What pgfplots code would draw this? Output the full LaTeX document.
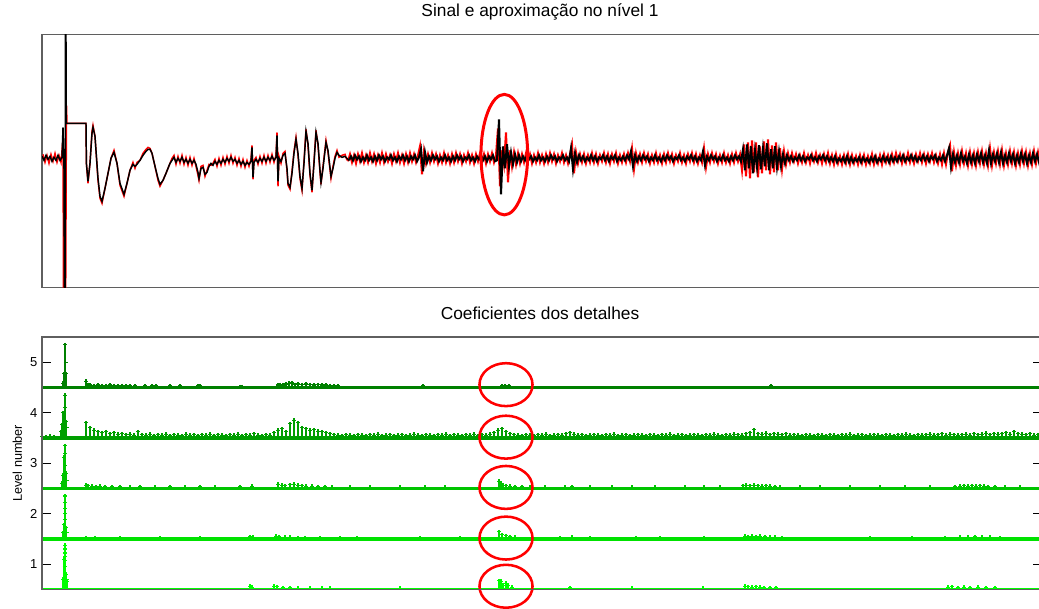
\documentclass[border=0pt]{standalone}
\usepackage{pgfplots}
\usepackage{pgfplotstable}
\pgfplotsset{compat=1.18}
\usepackage{fontspec}
\setmainfont{Liberation Sans}
\definecolor{lvfive}{RGB}{0,128,0}
\definecolor{lvfour}{RGB}{0,158,0}
\definecolor{lvthree}{RGB}{0,196,0}
\definecolor{lvtwo}{RGB}{0,226,0}
\definecolor{lvone}{RGB}{0,255,0}
\definecolor{frame}{RGB}{95,95,95}

% level tables: x position and stem height above the level's baseline
\pgfplotstableread[row sep=\\]{x h\\
63 0.08\\ 64 0.27\\ 64.6 0.28\\ 65 0.85\\ 65.5 0.5\\ 66 0.27\\
86 0.12\\ 88 0.06\\ 90 0.05\\ 94 0.04\\ 98 0.05\\ 102 0.04\\ 106 0.04\\ 110 0.05\\ 114 0.04\\ 118 0.03\\
122 0.04\\ 126 0.03\\ 130 0.03\\ 135 0.03\\ 145 0.03\\ 152 0.03\\ 156 0.03\\ 170 0.03\\ 180 0.03\\ 198 0.03\\
200 0.03\\ 240 0.02\\ 242 0.02\\ 278 0.05\\ 280 0.06\\ 283 0.05\\ 286 0.07\\ 289 0.08\\ 292 0.09\\ 295 0.06\\
298 0.07\\ 302 0.06\\ 306 0.07\\ 310 0.06\\ 314 0.05\\ 318 0.06\\ 322 0.05\\ 326 0.05\\ 330 0.04\\ 334 0.03\\
338 0.03\\ 423 0.03\\ 502 0.03\\ 505 0.03\\ 509 0.03\\ 771 0.03\\
}\levfive

\pgfplotstableread[row sep=\\]{x h\\
61 0.12\\ 62 0.26\\ 63 0.5\\ 63.5 0.45\\ 64 0.26\\ 65 0.85\\ 65 0.6\\ 66 0.32\\ 66.5 0.2\\
42 0.03\\ 46 0.02\\ 50 0.03\\ 54 0.02\\
86 0.3\\ 90 0.2\\ 94 0.15\\ 98 0.12\\ 102 0.1\\ 106 0.12\\ 110 0.08\\ 114 0.1\\ 118 0.07\\
122 0.08\\ 126 0.06\\ 130 0.07\\ 134 0.05\\ 138 0.12\\ 142 0.06\\ 146 0.05\\ 150 0.07\\ 154 0.04\\ 158 0.06\\
162 0.05\\ 166 0.07\\ 170 0.04\\ 174 0.06\\ 178 0.05\\ 182 0.04\\ 186 0.07\\ 190 0.05\\ 194 0.06\\ 198 0.04\\
202 0.06\\ 206 0.05\\ 210 0.07\\ 214 0.04\\ 218 0.06\\ 222 0.05\\ 226 0.04\\ 230 0.06\\ 234 0.05\\ 238 0.07\\
242 0.04\\ 246 0.06\\ 250 0.05\\ 254 0.08\\ 258 0.05\\ 262 0.04\\ 266 0.06\\ 270 0.05\\ 274 0.1\\ 278 0.15\\
282 0.18\\ 286 0.12\\ 290 0.28\\ 294 0.35\\ 298 0.3\\ 302 0.2\\ 306 0.18\\ 310 0.15\\ 314 0.16\\ 318 0.13\\
322 0.12\\ 326 0.1\\ 330 0.08\\ 334 0.06\\ 338 0.05\\ 342 0.04\\ 346 0.06\\ 350 0.05\\ 354 0.04\\ 358 0.06\\
362 0.05\\ 366 0.04\\ 370 0.06\\ 374 0.05\\ 378 0.07\\ 382 0.04\\ 386 0.05\\ 390 0.06\\ 394 0.04\\ 398 0.05\\
402 0.06\\ 406 0.04\\ 410 0.05\\ 414 0.07\\ 418 0.05\\ 422 0.04\\ 426 0.06\\ 430 0.05\\ 434 0.04\\ 438 0.06\\
442 0.05\\ 446 0.07\\ 450 0.04\\ 454 0.06\\ 458 0.05\\ 462 0.04\\ 466 0.06\\ 470 0.05\\ 474 0.07\\ 478 0.04\\
482 0.06\\ 486 0.05\\ 490 0.07\\ 494 0.1\\ 498 0.15\\ 502 0.18\\ 506 0.12\\ 510 0.08\\ 514 0.06\\ 518 0.05\\
522 0.04\\ 526 0.06\\ 530 0.05\\ 534 0.04\\ 538 0.06\\ 542 0.05\\ 546 0.07\\ 550 0.04\\ 554 0.05\\ 558 0.06\\
562 0.05\\ 566 0.08\\ 570 0.1\\ 574 0.07\\ 578 0.05\\ 582 0.06\\ 586 0.04\\ 590 0.05\\ 594 0.06\\ 598 0.05\\
602 0.04\\ 606 0.06\\ 610 0.05\\ 614 0.07\\ 618 0.04\\ 622 0.05\\ 626 0.06\\ 630 0.04\\ 634 0.05\\ 638 0.06\\
642 0.05\\ 646 0.04\\ 650 0.06\\ 654 0.05\\ 658 0.04\\ 662 0.06\\ 666 0.05\\ 670 0.07\\ 674 0.04\\ 678 0.05\\
682 0.06\\ 686 0.04\\ 690 0.05\\ 694 0.06\\ 698 0.05\\ 702 0.04\\ 706 0.06\\ 710 0.05\\ 714 0.07\\ 718 0.05\\
722 0.04\\ 726 0.06\\ 730 0.05\\ 734 0.07\\ 738 0.06\\ 742 0.05\\ 746 0.08\\ 750 0.1\\ 754 0.16\\ 758 0.08\\
762 0.07\\ 766 0.09\\ 770 0.06\\ 774 0.08\\ 778 0.07\\ 782 0.06\\ 786 0.08\\ 790 0.05\\ 794 0.06\\ 798 0.05\\
802 0.04\\ 806 0.06\\ 810 0.05\\ 814 0.04\\ 818 0.06\\ 822 0.05\\ 826 0.04\\ 830 0.06\\ 834 0.05\\ 838 0.04\\
842 0.06\\ 846 0.05\\ 850 0.07\\ 854 0.04\\ 858 0.05\\ 862 0.06\\ 866 0.04\\ 870 0.05\\ 874 0.06\\ 878 0.05\\
882 0.04\\ 886 0.06\\ 890 0.05\\ 894 0.04\\ 898 0.06\\ 902 0.05\\ 906 0.07\\ 910 0.05\\ 914 0.04\\ 918 0.06\\
922 0.05\\ 926 0.06\\ 930 0.07\\ 934 0.05\\ 938 0.06\\ 942 0.08\\ 946 0.05\\ 950 0.07\\ 954 0.06\\ 958 0.05\\
962 0.06\\ 966 0.07\\ 970 0.05\\ 974 0.08\\ 978 0.06\\ 982 0.07\\ 986 0.09\\ 990 0.06\\ 994 0.08\\ 998 0.07\\
1002 0.08\\ 1006 0.1\\ 1010 0.07\\ 1014 0.12\\ 1018 0.08\\ 1022 0.07\\ 1026 0.06\\ 1030 0.08\\ 1034 0.05\\ 1038 0.06\\
1042 0.05\\
}\levfour

\pgfplotstableread[row sep=\\]{x h\\
62 0.1\\ 63 0.26\\ 64 0.62\\ 65 0.85\\ 65 0.7\\ 65 0.45\\ 66 0.3\\ 66.5 0.15\\
86 0.06\\ 88 0.05\\ 92 0.04\\ 96 0.03\\ 100 0.04\\ 105 0.03\\ 112 0.03\\ 120 0.03\\ 130 0.02\\ 140 0.03\\
155 0.02\\ 170 0.03\\ 185 0.02\\ 200 0.03\\ 215 0.02\\ 240 0.03\\ 252 0.04\\ 278 0.08\\ 282 0.06\\ 285 0.05\\
290 0.07\\ 294 0.08\\ 298 0.06\\ 302 0.05\\ 306 0.04\\ 312 0.04\\ 318 0.03\\ 325 0.03\\ 332 0.02\\ 350 0.02\\
370 0.02\\ 400 0.02\\ 425 0.02\\ 445 0.02\\ 480 0.02\\ 499 0.14\\ 501 0.1\\ 503 0.06\\ 506 0.05\\ 510 0.04\\
515 0.03\\ 522 0.03\\ 530 0.02\\ 545 0.02\\ 565 0.02\\ 572 0.03\\ 590 0.02\\ 612 0.02\\ 632 0.02\\ 655 0.02\\
685 0.02\\ 704 0.02\\ 720 0.02\\ 743 0.05\\ 746 0.06\\ 750 0.05\\ 754 0.06\\ 758 0.05\\ 762 0.04\\ 766 0.05\\
770 0.04\\ 775 0.03\\ 780 0.02\\ 800 0.02\\ 820 0.02\\ 850 0.02\\ 880 0.02\\ 905 0.02\\ 930 0.02\\ 955 0.03\\
960 0.04\\ 964 0.05\\ 968 0.04\\ 972 0.05\\ 976 0.04\\ 980 0.05\\ 984 0.04\\ 988 0.03\\ 995 0.03\\ 1005 0.02\\
1020 0.02\\
}\levthree

\pgfplotstableread[row sep=\\]{x h\\
63 0.12\\ 64 0.28\\ 64.5 0.2\\ 65 0.85\\ 65 0.72\\ 65 0.6\\ 65 0.5\\ 65 0.38\\ 66 0.22\\ 66.5 0.12\\
86 0.02\\ 95 0.02\\ 120 0.02\\ 160 0.02\\ 200 0.02\\ 250 0.04\\ 253 0.03\\ 276 0.05\\ 279 0.04\\ 285 0.03\\
290 0.03\\ 298 0.02\\ 305 0.02\\ 320 0.02\\ 340 0.02\\ 357 0.02\\ 420 0.02\\ 460 0.02\\ 499 0.14\\ 502 0.08\\
506 0.06\\ 510 0.04\\ 515 0.03\\ 560 0.02\\ 572 0.03\\ 590 0.02\\ 636 0.02\\ 660 0.02\\ 704 0.02\\ 745 0.05\\
748 0.04\\ 752 0.05\\ 756 0.04\\ 760 0.05\\ 765 0.04\\ 770 0.03\\ 775 0.03\\ 782 0.02\\ 870 0.02\\ 912 0.02\\
945 0.02\\ 960 0.03\\ 968 0.03\\ 975 0.04\\ 982 0.03\\ 990 0.03\\ 1000 0.02\\
}\levtwo

\pgfplotstableread[row sep=\\]{x h\\
63 0.2\\ 64 0.6\\ 64.5 0.45\\ 65 0.87\\ 65 0.8\\ 65 0.72\\ 65 0.65\\ 65 0.58\\ 66 0.3\\ 66.5 0.2\\ 67 0.15\\
250 0.06\\ 252 0.04\\ 274 0.06\\ 277 0.05\\ 283 0.03\\ 290 0.03\\ 298 0.02\\ 310 0.02\\ 322 0.02\\ 330 0.02\\
400 0.02\\ 499 0.17\\ 501 0.16\\ 503 0.08\\ 506 0.12\\ 508 0.08\\ 512 0.04\\ 570 0.03\\ 632 0.02\\ 703 0.02\\
745 0.06\\ 748 0.05\\ 752 0.04\\ 756 0.05\\ 760 0.04\\ 764 0.03\\ 770 0.03\\ 776 0.03\\ 948 0.04\\ 952 0.05\\
958 0.03\\ 964 0.04\\ 970 0.03\\ 978 0.04\\ 986 0.03\\ 995 0.03\\
}\levone

\begin{document}
\begin{tikzpicture}
\pgfplotsset{
  panel/.style={
    scale only axis, width=750pt, xmin=42, xmax=1042, xtick=\empty,
    axis line style={draw=frame, line width=1pt},
    clip mode=individual,
    title style={font=\fontsize{13}{15}\selectfont, at={(0.5,1)}, anchor=base,
      yshift=7.5pt, xshift=-1.5pt},
  },
  stems/.style={color=#1, only marks, mark=+, mark size=1.5pt,
    mark options={line width=0.8pt},
    error bars/.cd, y dir=minus, y explicit, error mark=none,
    error bar style={#1, line width=0.9pt}},
}

% ---------- signal and level-1 approximation ----------
\begin{axis}[panel, at={(31.5pt,240.5pt)}, anchor=south west,
  height=189.75pt, ymin=-129, ymax=124, ytick=\empty,
  title={Sinal e aproximação no nível 1}]

\addplot[red, line width=1.1pt] coordinates {
(43,4)(45,-4)(47,3)(49,-5)(51,4)(53,-3)(55,5)(57,-4)(59,3)(61,-4)(63,20)(64,-300)(65,-300)(66.5,53)(67,35)(86,35)(86.4,-5)(88,-25)(90,-5)(92,27)(93,33)(95,22)(98,-22)(100,-40)(102,-45)(105,-30)(108,-15)(111,0)(114,8)(117,-5)(120,-27)(124,-38)(127,-25)(130,-12)(133,-4)(135,-10)(137,-4)(140,-2)(143,5)(146,9)(148,11)(150,10)(152,5)(155,-8)(158,-22)(160,-28)(163,-22)(166,-15)(168,-10)(170,-5)(172,0)(174,3)(176,-6)(178,2)(180,-5)(182,3)(184,-6)(186,1)(188,-7)(190,1)(192,-7)(194,0)(196,-8)(198,-17)(199,-22)(201,-8)(203,-7)(205,-18)(207,-12)(209,-6)(211,-7)(213,-5)(215,-1)(217,-8)(219,0)(221,-7)(223,1)(225,-6)(227,2)(229,-5)(231,3)(233,-5)(235,1)(237,-7)(239,0)(241,-8)(243,-1)(245,-9)(247,-2)(249,-8)(251,-1)(252,13)(253,-21)(254,-2)(256,1)(258,-6)(260,2)(262,-5)(264,3)(266,-5)(268,3)(270,-4)(272,4)(274,-4)(276,3)(277,26)(278,-28)(279,2)(281,-5)(283,5)(285,7)(287,-12)(288,-27)(290,-31)(292,-13)(294,7)(296,21)(298,3)(300,-20)(302,-32)(304,-3)(306,29)(308,13)(310,-17)(312,-34)(314,-3)(316,28)(318,13)(320,-14)(321,-26)(323,-8)(326,18)(328,6)(331,-20)(333,-8)(335,2)(337,8)(339,1)(342,3)(345,4)(347,-2)
};
\addplot[red, line width=1.5pt] table[row sep=\\, x expr=348+2*\coordindex, y=y]{y\\
-3\\
4\\ -4\\ 3\\ -5\\ 4\\ -3\\ 5\\ -4\\ 3\\ -4\\
5\\ -3\\ 4\\ -5\\ 3\\ -4\\ 5\\ -4\\ 4\\ -3\\
3\\ -5\\ 4\\ -3\\ 5\\ -4\\ 3\\ -5\\ 4\\ -4\\
5\\ -3\\ 4\\ -4\\ 3\\ 12\\ -16\\ 7\\ -5\\ 4\\
-4\\ 5\\ -3\\ 4\\ -5\\ 3\\ -4\\ 5\\ -4\\ 3\\
-5\\ 4\\ -4\\ 5\\ -3\\ 4\\ -5\\ 3\\ -3\\ 5\\
-4\\ 3\\ -5\\ 4\\ -3\\ 5\\ -4\\ 4\\ -5\\ 4\\
-3\\ 5\\ -4\\ 3\\ 30\\ -28\\ 8\\ -6\\ 26\\ -24\\
8\\ -8\\ 6\\ -6\\ 5\\ -5\\ 4\\ -4\\ 5\\ -3\\
4\\ -5\\ 3\\ -4\\ 5\\ -4\\ 3\\ -5\\ 4\\ -4\\
5\\ -3\\ 4\\ -5\\ 3\\ -3\\ 5\\ -4\\ 3\\ -5\\
4\\ 14\\ -15\\ 6\\ -5\\ 4\\ -4\\ 4\\ -5\\ 3\\
-4\\ 5\\ -4\\ 4\\ -5\\ 3\\ -3\\ 5\\ -4\\ 4\\
-5\\ 4\\ -3\\ 5\\ -5\\ 3\\ -4\\ 4\\ -4\\ 5\\
-3\\ 10\\ -11\\ 5\\ -4\\ 4\\ -4\\ 5\\ -3\\ 4\\
-5\\ 3\\ -4\\ 5\\ -4\\ 3\\ -5\\ 4\\ -4\\ 5\\
-3\\ 4\\ -5\\ 3\\ -3\\ 5\\ -4\\ 3\\ -5\\ 4\\
-3\\ 5\\ -4\\ 4\\ -5\\ 3\\ -4\\ 10\\ -9\\ 4\\
-4\\ 5\\ -3\\ 4\\ -5\\ 3\\ -4\\ 5\\ -4\\ 3\\
-5\\ 4\\ -4\\ 5\\ -3\\ 4\\ -12\\ 14\\ -18\\ 16\\
-20\\ 18\\ -14\\ 16\\ -19\\ 12\\ -15\\ 17\\ -12\\ 19\\
-16\\ 13\\ -14\\ 16\\ -12\\ 10\\ -11\\ 7\\ -6\\ 5\\
-4\\ 5\\ -3\\ 4\\ -5\\ 3\\ -4\\ 5\\ -4\\ 3\\
-5\\ 4\\ -3\\ 5\\ -4\\ 3\\ -5\\ 4\\ -4\\ 5\\
-5\\ 3\\ -6\\ 4\\ -5\\ 2\\ -6\\ 3\\ -5\\ 4\\
-6\\ 3\\ -5\\ 2\\ -6\\ 3\\ -5\\ 3\\ -6\\ 2\\
-5\\ 4\\ -6\\ 2\\ -5\\ 3\\ -6\\ 4\\ -4\\ 3\\
-5\\ 4\\ -4\\ 5\\ -3\\ 4\\ -5\\ 3\\ -4\\ 5\\
-4\\ 3\\ -5\\ 4\\ -3\\ 5\\ -4\\ 4\\ -5\\ 4\\
-3\\ 5\\ -4\\ 3\\ -5\\ 4\\ -6\\ 5\\ -6\\ 6\\
13\\ -13\\ 6\\ -7\\ 5\\ -6\\ 7\\ -5\\ 5\\ -7\\
6\\ -6\\ 5\\ -7\\ 6\\ -5\\ 7\\ -6\\ 5\\ -7\\
10\\ -7\\ 6\\ -5\\ 7\\ -6\\ 8\\ -7\\ 5\\ -6\\
7\\ -5\\ 6\\ -7\\ 5\\ -6\\ 7\\ -5\\ 6\\ -7\\
5\\ -6\\ 7\\ -5\\ 6\\ -5\\
};

\addplot[black, line width=1.1pt] coordinates {
(42,2)(44,-2)(46,3)(48,-1)(50,2)(52,-3)(54,1)(56,-2)(58,3)(60,-2)(62,1)(63,31)(64,-11)(65,-300)(65.6,300)(66.2,35)(86,35)(86.4,-5)(88,-23)(90,-5)(92,25)(93,31)(95,22)(98,-20)(100,-38)(102,-43)(105,-30)(108,-15)(111,0)(114,6)(117,-5)(120,-25)(124,-36)(127,-25)(130,-12)(133,-6)(135,-8)(137,-6)(140,-2)(143,3)(146,7)(148,9)(150,9)(152,5)(155,-8)(158,-20)(160,-26)(163,-22)(166,-15)(168,-10)(170,-5)(172,-2)(174,1)(176,-4)(178,0)(180,-3)(182,1)(184,-4)(186,-1)(188,-5)(190,-1)(192,-5)(194,-2)(196,-6)(198,-14)(199,-20)(201,-10)(203,-9)(205,-16)(207,-14)(209,-8)(211,-5)(213,-7)(215,-3)(217,-6)(219,-2)(221,-5)(223,-1)(225,-4)(227,0)(229,-3)(231,1)(233,-3)(235,-1)(237,-5)(239,-2)(241,-6)(243,-3)(245,-7)(247,-4)(249,-6)(251,-3)(252,11)(253,-19)(254,-4)(256,-1)(258,-4)(260,0)(262,-3)(264,1)(266,-3)(268,1)(270,-2)(272,2)(274,-2)(276,1)(277,23)(278,-23)(279,0)(281,-3)(283,3)(285,5)(287,-10)(288,-25)(290,-29)(292,-15)(294,5)(296,19)(298,5)(300,-18)(302,-30)(304,-5)(306,27)(308,15)(310,-15)(312,-32)(314,-5)(316,26)(318,15)(320,-12)(321,-24)(323,-10)(326,16)(328,8)(331,-18)(333,-10)(335,0)(337,6)(339,3)(342,1)(345,2)(347,0)(349,-2)
};
\addplot[black, line width=1.5pt] table[row sep=\\, x expr=349+2*\coordindex, y=y]{y\\
-2\\
2\\ -2\\ 3\\ -1\\ 2\\ -3\\ 1\\ -2\\ 3\\ -2\\
1\\ -3\\ 2\\ -2\\ 3\\ -1\\ 2\\ -3\\ 1\\ -1\\
3\\ -2\\ 1\\ -3\\ 2\\ -1\\ 3\\ -2\\ 2\\ -3\\
2\\ -1\\ 3\\ -3\\ 1\\ 9\\ -13\\ 6\\ -4\\ 2\\
-2\\ 3\\ -1\\ 2\\ -3\\ 1\\ -2\\ 3\\ -2\\ 1\\
-3\\ 2\\ -2\\ 3\\ -1\\ 2\\ -3\\ 1\\ -1\\ 3\\
-2\\ 1\\ -3\\ 2\\ -1\\ 3\\ -2\\ 2\\ -3\\ 2\\
-1\\ 3\\ -3\\ -2\\ 39\\ -36\\ 12\\ -10\\ 14\\ -8\\
6\\ -6\\ 4\\ -4\\ 3\\ -3\\ 2\\ -2\\ 3\\ -1\\
2\\ -3\\ 1\\ -2\\ 3\\ -2\\ 1\\ -3\\ 2\\ -2\\
3\\ -1\\ 2\\ -3\\ 1\\ -1\\ 3\\ -2\\ 1\\ -3\\
10\\ -11\\ 5\\ -4\\ 3\\ -2\\ 2\\ -3\\ 1\\ -2\\
3\\ -2\\ 2\\ -3\\ 1\\ -1\\ 3\\ -2\\ 2\\ -3\\
2\\ -1\\ 3\\ -3\\ 1\\ -2\\ 2\\ -2\\ 3\\ -1\\
7\\ -8\\ 3\\ -3\\ 2\\ -2\\ 3\\ -1\\ 2\\ -3\\
1\\ -2\\ 3\\ -2\\ 1\\ -3\\ 2\\ -2\\ 3\\ -1\\
2\\ -3\\ 1\\ -1\\ 3\\ -2\\ 1\\ -3\\ 2\\ -1\\
3\\ -2\\ 2\\ -3\\ 1\\ -2\\ 7\\ -7\\ 2\\ -2\\
3\\ -1\\ 2\\ -3\\ 1\\ -2\\ 3\\ -2\\ 1\\ -3\\
2\\ -2\\ 3\\ -1\\ 2\\ -3\\ 9\\ -12\\ 14\\ -10\\
12\\ -15\\ 8\\ -9\\ 13\\ -11\\ 10\\ -8\\ 15\\ -12\\
9\\ -10\\ 12\\ -9\\ 7\\ -8\\ 4\\ -5\\ 3\\ -2\\
2\\ -3\\ 1\\ -2\\ 3\\ -2\\ 2\\ -3\\ 1\\ -1\\
3\\ -2\\ 1\\ -3\\ 2\\ -1\\ 3\\ -2\\ 2\\ -3\\
1\\ -3\\ 2\\ -4\\ 0\\ -3\\ 1\\ -4\\ 2\\ -4\\
1\\ -4\\ 0\\ -3\\ 1\\ -4\\ 1\\ -3\\ 0\\ -4\\
1\\ -3\\ 2\\ -4\\ 0\\ -3\\ 2\\ -3\\ 1\\ -4\\
2\\ -3\\ 1\\ -3\\ 2\\ -2\\ 3\\ -3\\ 1\\ -2\\
3\\ -2\\ 2\\ -3\\ 1\\ -2\\ 3\\ -2\\ 2\\ -3\\
2\\ -1\\ 3\\ -3\\ 1\\ -2\\ 3\\ -3\\ 3\\ 10\\
-9\\ 4\\ -4\\ 3\\ -4\\ 5\\ -3\\ 2\\ -5\\ 4\\
-4\\ 3\\ -5\\ 4\\ -3\\ 5\\ -4\\ 3\\ -5\\ 8\\
-5\\ 4\\ -3\\ 5\\ -4\\ 6\\ -5\\ 3\\ -4\\ 5\\
-3\\ 4\\ -5\\ 3\\ -4\\ 5\\ -3\\ 4\\ -5\\ 3\\
-4\\ 5\\ -3\\ 4\\ -4\\ 3\\
};

\draw[red, line width=2.25pt] (axis cs:504.3,3.7) ellipse [x radius=17.5pt, y radius=45.2pt];
\end{axis}

% ---------- detail coefficients, levels 1 to 5 ----------
\begin{axis}[panel, at={(31.5pt,14pt)}, anchor=south west,
  height=189.2pt, ymin=0.5, ymax=5.5, ytick={1,2,3,4,5},
  axis on top,
  tick align=inside, major tick length=6.75pt,
  major tick style={black, line width=0.8pt},
  /pgf/number format/assume math mode=true,
  yticklabel style={font=\fontsize{9.75}{11}\selectfont},
  every axis y label/.style={at={(rel axis cs:-0.0247,0.5)}, rotate=90, anchor=center},
  ylabel={Level number},
  ylabel style={font=\fontsize{9.5}{11}\selectfont},
  title={Coeficientes dos detalhes}]

% level 5
\addplot[lvfive, line width=2.5pt] coordinates {(42,4.5)(1042,4.5)};
\addplot[stems=lvfive] table[x=x, y expr=\thisrow{h}+4.5, y error expr=\thisrow{h}]{\levfive};
% level 4
\addplot[lvfour, line width=2.5pt] coordinates {(42,3.5)(1042,3.5)};
\addplot[stems=lvfour] table[x=x, y expr=\thisrow{h}+3.5, y error expr=\thisrow{h}]{\levfour};
% level 3
\addplot[lvthree, line width=2.5pt] coordinates {(42,2.5)(1042,2.5)};
\addplot[stems=lvthree] table[x=x, y expr=\thisrow{h}+2.5, y error expr=\thisrow{h}]{\levthree};
% level 2
\addplot[lvtwo, line width=2.5pt] coordinates {(42,1.5)(1042,1.5)};
\addplot[stems=lvtwo] table[x=x, y expr=\thisrow{h}+1.5, y error expr=\thisrow{h}]{\levtwo};
% level 1
\addplot[lvone, line width=2.5pt] coordinates {(42,0.5)(1042,0.5)};
\addplot[stems=lvone] table[x=x, y expr=\thisrow{h}+0.5, y error expr=\thisrow{h}]{\levone};

% highlighted region on every level
\draw[red, line width=1.9pt] (axis cs:506,4.557) ellipse [x radius=19.9pt, y radius=16.1pt];
\draw[red, line width=1.9pt] (axis cs:506,3.516) ellipse [x radius=19.9pt, y radius=16.1pt];
\draw[red, line width=1.9pt] (axis cs:506,2.52) ellipse [x radius=19.9pt, y radius=16.1pt];
\draw[red, line width=1.9pt] (axis cs:506,1.516) ellipse [x radius=19.9pt, y radius=16.1pt];
\draw[red, line width=1.9pt] (axis cs:506,0.561) ellipse [x radius=19.9pt, y radius=16.1pt];
\end{axis}

\pgfresetboundingbox
\useasboundingbox (0,0) rectangle (779.25pt,456pt);
\end{tikzpicture}
\end{document}
